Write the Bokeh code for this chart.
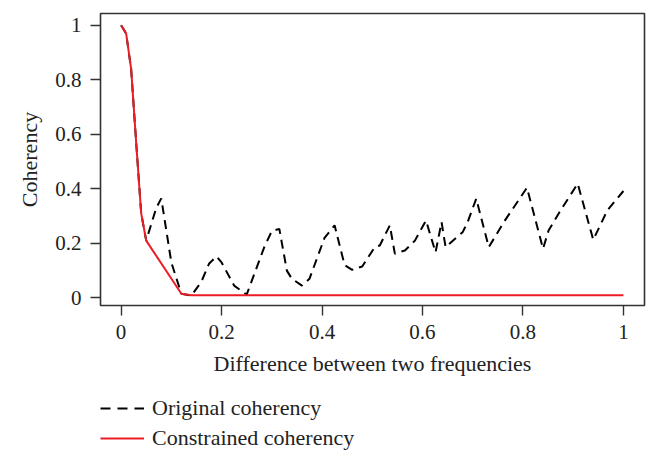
from bokeh.plotting import figure
from bokeh.layouts import column
from bokeh.models import Range1d, FixedTicker, Legend, LegendItem
from bokeh.embed import file_html
from bokeh.resources import INLINE

# Data
orig_x = [0.0, 0.01, 0.02, 0.03, 0.04, 0.05, 0.07, 0.08, 0.10, 0.12, 0.14, 0.16,
          0.175, 0.19, 0.20, 0.225, 0.25, 0.285, 0.30, 0.315, 0.33, 0.34, 0.36,
          0.375, 0.405, 0.425, 0.445, 0.46, 0.48, 0.505, 0.515, 0.535, 0.545,
          0.565, 0.585, 0.607, 0.626, 0.638, 0.646, 0.68, 0.69, 0.707, 0.732,
          0.762, 0.808, 0.84, 0.851, 0.875, 0.909, 0.94, 0.968, 1.0]
orig_y = [1.0, 0.97, 0.84, 0.57, 0.31, 0.21, 0.33, 0.365, 0.13, 0.015, 0.008, 0.06,
          0.125, 0.152, 0.13, 0.045, 0.012, 0.186, 0.245, 0.253, 0.10, 0.07, 0.045,
          0.07, 0.22, 0.266, 0.12, 0.103, 0.115, 0.186, 0.192, 0.266, 0.162,
          0.174, 0.21, 0.284, 0.167, 0.278, 0.186, 0.241, 0.278, 0.364, 0.186,
          0.278, 0.404, 0.18, 0.247, 0.321, 0.419, 0.213, 0.321, 0.392]

cons_x = [0.0, 0.01, 0.02, 0.03, 0.04, 0.05, 0.12, 0.14, 1.0]
cons_y = [1.0, 0.97, 0.84, 0.57, 0.31, 0.21, 0.015, 0.01, 0.01]

x_ticks = [0, 0.2, 0.4, 0.6, 0.8, 1.0]
x_tick_labels = ["0", "0.2", "0.4", "0.6", "0.8", "1"]
y_ticks = [0, 0.2, 0.4, 0.6, 0.8, 1.0]
y_tick_labels = ["0", "0.2", "0.4", "0.6", "0.8", "1"]
series_names = ["Original coherency", "Constrained coherency"]

FONT = "Liberation Serif"
TXT = "#222222"
RED = "#ec1c24"
DASH = "9 6"

p = figure(width=650, height=385, output_backend="svg", toolbar_location=None,
           x_range=Range1d(-0.041, 1.042), y_range=Range1d(-0.028, 1.043),
           min_border_left=100, min_border_right=6, min_border_top=13,
           min_border_bottom=80)
p.grid.visible = False
p.outline_line_color = "#333333"
p.outline_line_width = 1.6
p.background_fill_color = "white"
p.border_fill_color = "white"

p.line(orig_x, orig_y, line_color="black", line_width=2, line_dash=DASH)
p.line(cons_x, cons_y, line_color=RED, line_width=2)

for ax in (p.xaxis[0], p.yaxis[0]):
    ax.axis_line_color = None
    ax.major_tick_line_color = "#333333"
    ax.major_tick_line_width = 1.4
    ax.major_tick_in = 0
    ax.major_tick_out = 10
    ax.minor_tick_line_color = None
    ax.major_label_text_font = FONT
    ax.major_label_text_font_size = "21px"
    ax.major_label_text_color = TXT
    ax.axis_label_text_font = FONT
    ax.axis_label_text_font_size = "22px"
    ax.axis_label_text_font_style = "normal"
    ax.axis_label_text_color = TXT

p.xaxis.ticker = FixedTicker(ticks=x_ticks)
p.xaxis.major_label_overrides = {t: l for t, l in zip(x_ticks, x_tick_labels)}
p.yaxis.ticker = FixedTicker(ticks=y_ticks)
p.yaxis.major_label_overrides = {t: l for t, l in zip(y_ticks, y_tick_labels)}
p.yaxis.major_label_orientation = "horizontal"

p.xaxis.axis_label = "Difference between two frequencies"
p.yaxis.axis_label = "Coherency"
p.xaxis.major_label_standoff = 9
p.xaxis.axis_label_standoff = 9
p.yaxis.major_label_standoff = 9
p.yaxis.axis_label_standoff = 10

# Legend panel below the plot
q = figure(width=650, height=68, output_backend="svg", toolbar_location=None,
           x_axis_type=None, y_axis_type=None,
           x_range=Range1d(0, 1), y_range=Range1d(0, 1),
           min_border_left=100, min_border_right=0, min_border_top=10,
           min_border_bottom=0)
q.grid.visible = False
q.outline_line_color = None
q.background_fill_color = "white"
q.border_fill_color = "white"
# key samples sit outside the visible range; only their legend glyphs show
k_orig = q.line(x=[-5, -4], y=[-5, -4], line_color="black", line_width=2, line_dash="10 7")
k_cons = q.line(x=[-5, -4], y=[-5, -4], line_color=RED, line_width=2)

legend = Legend(items=[LegendItem(label=series_names[0], renderers=[k_orig]),
                       LegendItem(label=series_names[1], renderers=[k_cons])],
                location="top_left", orientation="vertical",
                padding=0, margin=0, spacing=4,
                glyph_width=44, glyph_height=24, label_height=24,
                label_standoff=8,
                label_text_font=FONT, label_text_font_size="22px",
                label_text_color=TXT,
                background_fill_alpha=0, border_line_alpha=0)
q.add_layout(legend, "center")

layout = column(p, q, spacing=0)
open("out.html", "w").write(file_html(layout, INLINE))
